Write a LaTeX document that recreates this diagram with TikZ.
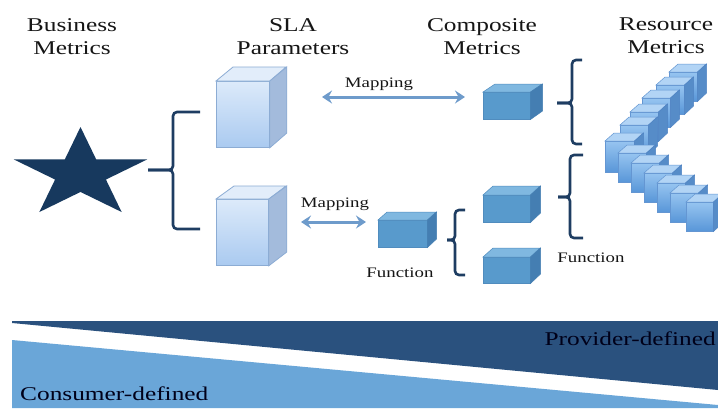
\documentclass[tikz,border=0pt]{standalone}
\usepackage{fontspec}
\setmainfont{Liberation Serif}[FakeStretch=1.3]
\usetikzlibrary{arrows.meta}
\definecolor{starc}{HTML}{17395E}
\definecolor{bracec}{HTML}{1E3D62}
\definecolor{arrowc}{HTML}{6E9BCB}
\definecolor{darkband}{HTML}{2A517E}
\definecolor{lightband}{HTML}{6AA6D8}
\definecolor{txt}{HTML}{161616}
\newcommand{\mycube}[8]{%
  \node[#8front, anchor=north west, inner sep=0pt, minimum width=#4pt, minimum height=#5pt] (#1) at (#2,#3) {};
  \filldraw[#8top] (#1.north west) -- ++(#6,-#7) -- ++(#4,0) -- (#1.north east) -- cycle;
  \filldraw[#8side] (#1.north east) -- ++(#6,-#7) -- ++(0,#5) -- (#1.south east) -- cycle;
}
\newcommand{\mybrace}[6]{%
  \draw[bracestyle] (#5,#2) -- (#1,#2) -- (#1,#3) -- (#6,#3);
  \draw[bracestyle] (#5,#4) -- (#1,#4) -- (#1,#3) -- (#6,#3);
}
\tikzset{
  slafront/.style={top color={rgb,255:red,220;green,234;blue,250}, bottom color={rgb,255:red,170;green,202;blue,240}, draw={rgb,255:red,140;green,172;blue,212}, line width=0.8pt},
  slatop/.style={fill={rgb,255:red,226;green,237;blue,250}, draw={rgb,255:red,140;green,172;blue,212}, line width=0.8pt},
  slaside/.style={fill={rgb,255:red,163;green,187;blue,220}, draw={rgb,255:red,140;green,172;blue,212}, line width=0.8pt},
  compfront/.style={fill={rgb,255:red,88;green,154;blue,204}, draw={rgb,255:red,80;green,140;blue,190}, line width=0.5pt},
  comptop/.style={fill={rgb,255:red,128;green,184;blue,224}, draw={rgb,255:red,80;green,140;blue,190}, line width=0.5pt},
  compside/.style={fill={rgb,255:red,68;green,126;blue,178}, draw={rgb,255:red,68;green,126;blue,178}, line width=0.5pt},
  resfront/.style={top color={rgb,255:red,150;green,196;blue,240}, bottom color={rgb,255:red,88;green,150;blue,216}, draw={rgb,255:red,100;green,150;blue,210}, line width=0.5pt},
  restop/.style={fill={rgb,255:red,178;green,212;blue,245}, draw={rgb,255:red,100;green,150;blue,210}, line width=0.5pt},
  resside/.style={fill={rgb,255:red,86;green,140;blue,200}, draw={rgb,255:red,80;green,132;blue,195}, line width=0.5pt},
  bracestyle/.style={draw=bracec, line width=2.6pt, rounded corners=4pt},
  maparrow/.style={draw=arrowc, line width=3pt, {Stealth[length=10pt,width=13pt,inset=3.5pt]}-{Stealth[length=10pt,width=13pt,inset=3.5pt]}},
  heading/.style={text=txt, font=\fontsize{19.5}{23}\selectfont, align=center, inner sep=0pt, anchor=north},
  smalllabel/.style={text=txt, font=\fontsize{14.5}{16}\selectfont, inner sep=0pt, anchor=base},
  bandlabel/.style={text=black!90!blue, font=\fontsize{19.5}{23}\selectfont, inner sep=0pt},
}
\begin{document}
\begin{tikzpicture}[x=1pt,y=-1pt]
\useasboundingbox[fill=white] (0,0) rectangle (718,408);

% bands
\fill[darkband] (12,321) -- (718,321) -- (718,390) -- (12,323) -- cycle;
\fill[lightband] (12,340) -- (718,405) -- (718,408) -- (12,408) -- cycle;
\node[bandlabel, anchor=base east] (prov) at (716,345) {Provider-defined};
\node[bandlabel, anchor=base west] (cons) at (20,400) {Consumer-defined};

% headings
\node[heading] (h1) at (72,18) {Business\\Metrics};
\node[heading] (h2) at (293,18) {SLA\\Parameters};
\node[heading] (h3) at (482,18) {Composite\\Metrics};
\node[heading] (h4) at (666,18) {Resource\\Metrics};

% star
\fill[starc] (80.5,127) -- (64.78,159.48) -- (13.93,159.48) -- (55.07,179.55) -- (39.36,212.02)
  -- (80.5,191.95) -- (121.64,212.02) -- (105.93,179.55) -- (147.07,159.48) -- (96.22,159.48) -- cycle;
\coordinate (star) at (80.5,174);

% SLA cubes
\mycube{sla1}{216}{81}{53}{66}{17}{14}{sla}
\mycube{sla2}{216}{199}{52}{66}{18}{13}{sla}

% brackets
\mybrace{173}{112}{170}{229}{200}{148}
\mybrace{455}{210}{240}{275}{465}{447}
\mybrace{572}{60}{103}{144}{582}{557}
\mybrace{570}{155}{197}{238}{583}{558}

% composite cubes
\mycube{ctop}{483}{92}{47}{27}{12}{8}{comp}
\mycube{cA}{378}{220}{49}{27}{9}{8}{comp}
\mycube{cB}{483}{195}{47}{27}{10}{9}{comp}
\mycube{cC}{483}{257}{47}{26}{10}{9}{comp}

% mapping arrows
\coordinate (m1a) at (322,97);
\coordinate (m1b) at (465,97);
\draw[maparrow] (m1a) -- (m1b);
\node[smalllabel] (map1) at (379,87) {Mapping};
\coordinate (m2a) at (301,222);
\coordinate (m2b) at (366,222);
\draw[maparrow] (m2a) -- (m2b);
\node[smalllabel] (map2) at (335,207) {Mapping};

\node[smalllabel] (fun1) at (400,277) {Function};
\node[smalllabel] (fun2) at (591,262) {Function};

% resource cubes
\mycube{r1}{669}{72}{28}{29}{9}{8}{res}
\mycube{r2}{656}{85}{28}{29}{9}{8}{res}
\mycube{r3}{642}{98}{28}{29}{9}{8}{res}
\mycube{r4}{630}{112}{28}{29}{9}{8}{res}
\mycube{r5}{620}{125}{28}{29}{9}{8}{res}
\mycube{r6}{605}{141}{29}{31}{9}{8}{res}
\mycube{r7}{618}{153}{28}{29}{9}{8}{res}
\mycube{r8}{631}{163}{28}{29}{9}{8}{res}
\mycube{r9}{644}{173}{28}{29}{9}{8}{res}
\mycube{r10}{657}{183}{28}{29}{9}{8}{res}
\mycube{r11}{670}{193}{28}{29}{9}{8}{res}
\mycube{r12}{686}{202}{27}{29}{9}{8}{res}
\end{tikzpicture}
\end{document}
